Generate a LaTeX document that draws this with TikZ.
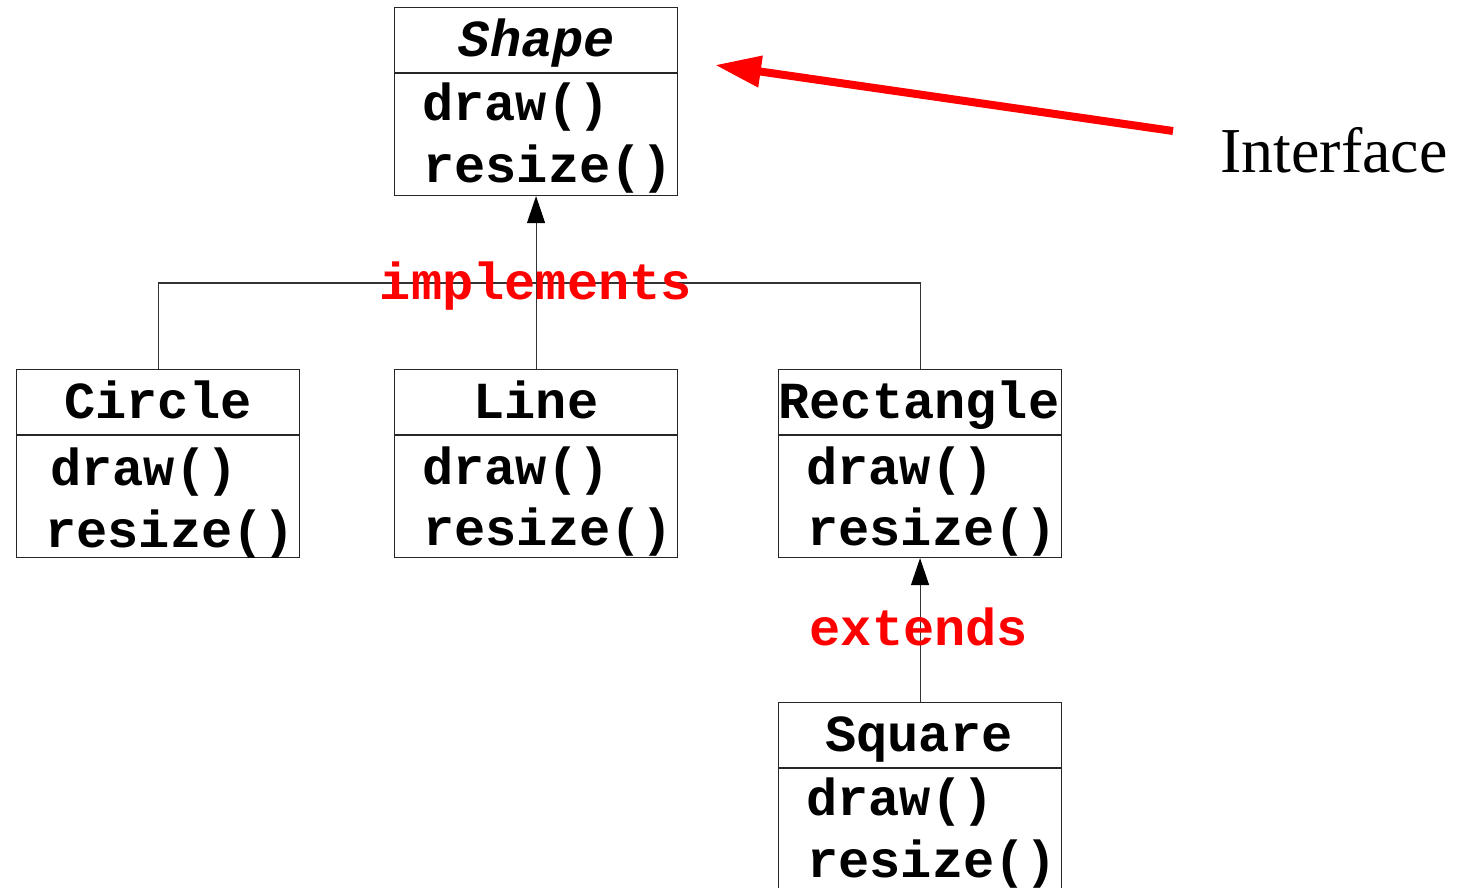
\documentclass[tikz,border=0pt]{standalone}
\usepackage{fontspec}
\setmainfont{Liberation Serif}
\setmonofont{Liberation Mono}
\usetikzlibrary{arrows.meta,calc}
\begin{document}
\begin{tikzpicture}[x=1pt,y=-1pt,
  box/.style={draw=black!85, line width=1.1pt, minimum width=283pt, minimum height=188pt, anchor=north west, inner sep=0pt},
  divider/.style={draw=black!85, line width=1.1pt},
  cname/.style={anchor=base, inner sep=0pt, font=\fontsize{52}{60}\selectfont\ttfamily\bfseries},
  meth/.style={anchor=base west, inner sep=0pt, font=\fontsize{52}{60}\selectfont\ttfamily\bfseries},
  lbl/.style={anchor=base, inner sep=0pt, text=red, font=\fontsize{52}{60}\selectfont\ttfamily\bfseries},
  conn/.style={draw=black!80, line width=1.1pt},
  head/.style={-{Triangle[length=27pt,width=18pt,color=black]}},
  redarrow/.style={draw=red, line width=8pt, -{Triangle[length=46pt,width=30pt]}}
]
\clip (0,0) rectangle (1464,888);
\fill[white] (0,0) rectangle (1464,888);

% boxes
\node[box] (shape) at (394,7) {};
\node[box] (circle) at (16,369) {};
\node[box] (line) at (394,369) {};
\node[box] (rect) at (778,369) {};
\node[box, minimum height=200pt] (square) at (778,702) {};

\foreach \b in {shape,circle,line,rect,square}{
  \draw[divider] ($(\b.north west)+(0,66)$) -- ($(\b.north east)+(0,66)$);
}

% class names
\node[cname] (shapename) at (537,57) {\itshape Shape};
\node[cname] (circlename) at (158,418) {Circle};
\node[cname] (linename) at (536,418) {Line};
\node[cname] (rectname) at (919,418) {Rectangle};
\node[cname] (squarename) at (919,751) {Square};

% methods
\node[meth] (shapem1) at (422,121) {draw()};
\node[meth] (shapem2) at (423,182) {resize()};
\node[meth] (circlem1) at (50,485) {draw()};
\node[meth] (circlem2) at (45,547) {resize()};
\node[meth] (linem1) at (422,484) {draw()};
\node[meth] (linem2) at (423,545) {resize()};
\node[meth] (rectm1) at (806,484) {draw()};
\node[meth] (rectm2) at (807,545) {resize()};
\node[meth] (squarem1) at (806,815) {draw()};
\node[meth] (squarem2) at (807,877) {resize()};

% connectors
\coordinate (j) at (536,283);
\draw[conn] (circle.north) |- (j) -| (rect.north);
\draw[conn, head] (line.north) -- (shape.south);
\draw[conn, head] (square.north) -- (rect.south);

% labels
\node[lbl] (impl) at (536,299) {implements};
\node[lbl] (ext) at (919,645) {extends};

% interface
\coordinate (ifstart) at (1173,131);
\coordinate (iftip) at (715,65);
\draw[redarrow] (ifstart) -- (iftip);
\node[anchor=base west, inner sep=0pt, font=\fontsize{64}{70}\selectfont] (iface) at (1220,172) {Interface};
\end{tikzpicture}
\end{document}
